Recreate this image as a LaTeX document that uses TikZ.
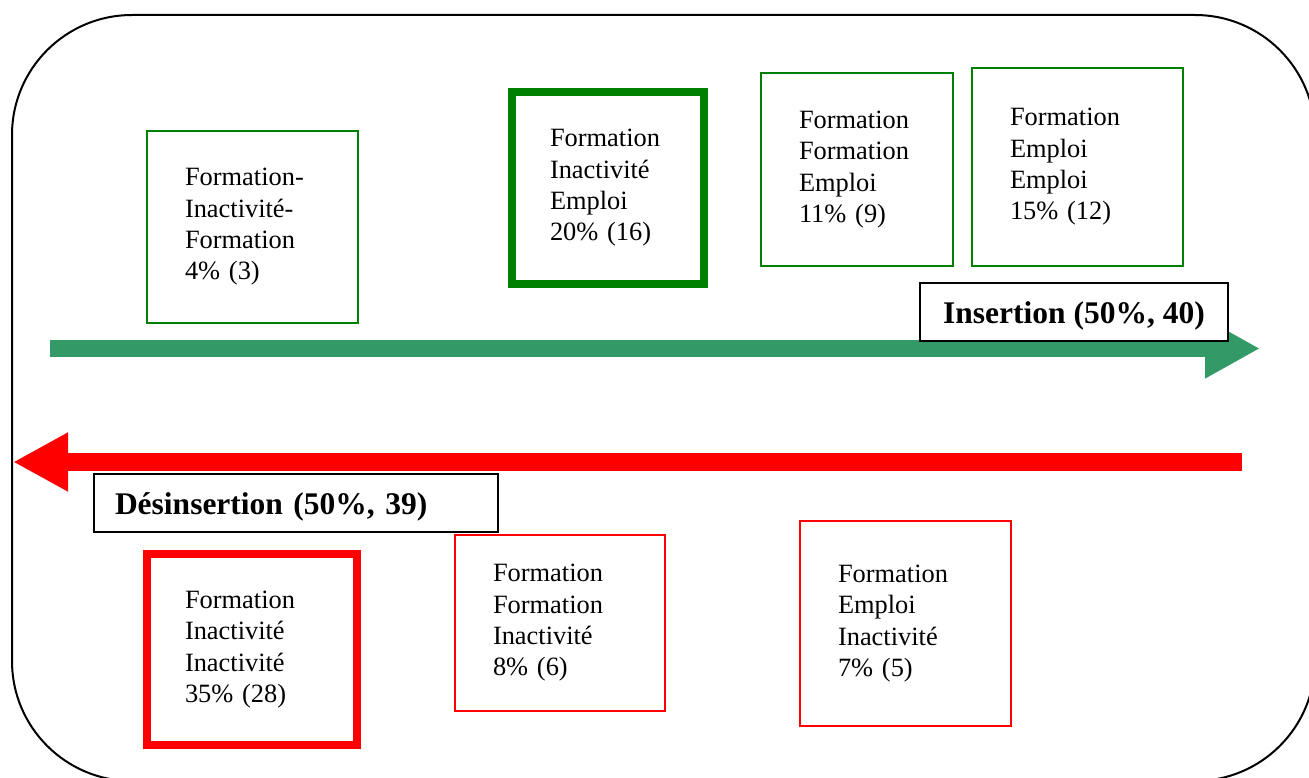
\documentclass[tikz,border=0pt]{standalone}
\usepackage{fontspec}
\setmainfont{Liberation Serif}
\usetikzlibrary{positioning, arrows.meta}
\definecolor{pathgreen}{RGB}{0,128,0}
\definecolor{insgreen}{RGB}{51,153,102}
\definecolor{desred}{RGB}{255,0,0}

\begin{document}
\begin{tikzpicture}[
  x=1pt, y=-1pt,
  stage/.style={rectangle, draw, align=left, inner xsep=38pt, inner ysep=0pt, font=\fontsize{26.4}{31.3}\selectfont},
  thinbox/.style={stage, line width=1.5pt},
  thickbox/.style={stage, line width=8pt},
  tagbox/.style={rectangle, draw, fill=white, line width=2pt, minimum height=58pt, inner xsep=21pt, text height=22pt, text depth=0pt, font=\fontsize{31.5}{36}\selectfont\bfseries},
  bigarr/.style={line width=17pt, -{Triangle[length=55pt, width=56pt]}}
]
\useasboundingbox (0,0) rectangle (1309,778);
\clip (0,0) rectangle (1309,778);
\draw[line width=2pt, rounded corners=120pt] (12,15) rectangle (1315,781);

% insertion paths
\node[thinbox, draw=pathgreen, text width=135pt, minimum height=192pt] (fif) at (252.5,227) {Formation-\\Inactivité-\\Formation\\4\% (3)};
\node[thickbox, draw=pathgreen, text width=116pt, minimum height=192pt] (fie) at (608,188) {Formation\\Inactivité\\Emploi\\20\% (16)};
\node[thinbox, draw=pathgreen, text width=116pt, minimum height=193pt] (ffe) at (857,169.5) {Formation\\Formation\\Emploi\\11\% (9)};
\node[thinbox, draw=pathgreen, text width=135pt, minimum height=198pt] (fee) at (1077.5,167) {Formation\\Emploi\\Emploi\\15\% (12)};

% desinsertion paths
\node[thickbox, draw=desred, text width=134pt, minimum height=191pt] (fii) at (252,649.5) {Formation\\Inactivité\\Inactivité\\35\% (28)};
\node[thinbox, draw=desred, text width=134pt, minimum height=176pt] (ffi) at (560,623) {Formation\\Formation\\Inactivité\\8\% (6)};
\node[thinbox, draw=desred, text width=135pt, minimum height=205pt] (fei) at (905.5,623.5) {Formation\\Emploi\\Inactivité\\7\% (5)};

% big arrows
\coordinate (ins start) at (50,348.5);
\coordinate (ins end) at (1260,348.5);
\coordinate (des start) at (1242,462);
\coordinate (des end) at (13,462);
\draw[bigarr, insgreen] (ins start) -- (ins end);
\draw[bigarr, desred, line width=18pt, -{Triangle[length=55pt, width=55pt]}] (des start) -- (des end);

\node[tagbox, minimum width=308pt] (ins) at (1074,312) {Insertion (50\%, 40)};
\node[tagbox, text width=362pt, align=left] (des) at (296,503) {Désinsertion (50\%, 39)};
\end{tikzpicture}
\end{document}
